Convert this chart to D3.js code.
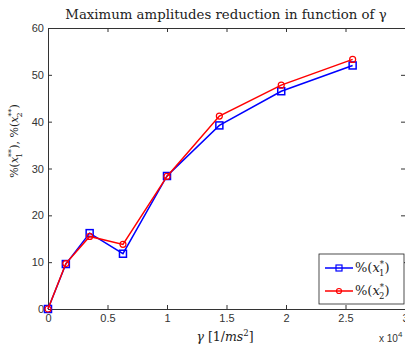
<!DOCTYPE html>
<html>
<head>
<meta charset="utf-8">
<script src="https://cdn.jsdelivr.net/npm/d3@7"></script>
<style>
	body { margin: 0; background: #fff; }
	.tick text { font-family: 'Liberation Sans', Arial, sans-serif; font-size: 11px; fill: #333; }
	.math { font-family: 'DejaVu Serif', 'Liberation Serif', serif; }
</style>
</head>
<body>
<script>
// values (gamma in 1e4 1/ms^2)
const gamma = [0, 0.15, 0.35, 0.63, 1.0, 1.44, 1.96, 2.56]
const x1 = [0, 9.6, 16.2, 11.8, 28.4, 39.2, 46.5, 52.0]
const x2 = [0, 9.7, 15.5, 13.8, 28.3, 41.2, 47.8, 53.3]
const xTicks = [0, 0.5, 1, 1.5, 2, 2.5, 3]
const yTicks = [0, 10, 20, 30, 40, 50, 60]

const W = 405, H = 347
const margin = { top: 28, bottom: 38, left: 48, right: 0 }
const width = W - margin.left - margin.right
const height = H - margin.top - margin.bottom

const svg = d3.select('body').append('svg').attr('width', W).attr('height', H)
const g = svg.append('g').attr('transform', `translate(${margin.left},${margin.top})`)

const xscale = d3.scaleLinear().domain([0, 3]).range([0, width])
const yscale = d3.scaleLinear().domain([0, 60]).range([height, 0])

// axes, ticks pointing inwards like matlab
const axisStyle = sel => {
	sel.select('.domain').attr('stroke', '#333')
	sel.selectAll('.tick line').attr('stroke', '#333')
}
g.append('g').attr('transform', `translate(0,${height})`)
	.call(d3.axisBottom(xscale).tickValues(xTicks).tickSize(-4).tickPadding(5).tickFormat(d3.format('')))
	.call(axisStyle)
g.append('g')
	.call(d3.axisTop(xscale).tickValues(xTicks).tickSize(-4).tickFormat(''))
	.call(axisStyle)
g.append('g')
	.call(d3.axisLeft(yscale).tickValues(yTicks).tickSize(-4).tickPadding(4))
	.call(axisStyle)
g.append('g').attr('transform', `translate(${width},0)`)
	.call(d3.axisRight(yscale).tickValues(yTicks).tickSize(-4).tickFormat(''))
	.call(axisStyle)

const line = d3.line().x(d => xscale(d[0])).y(d => yscale(d[1]))

const s1 = gamma.map((v, i) => [v, x1[i]])
const s2 = gamma.map((v, i) => [v, x2[i]])

g.append('path').datum(s1).attr('d', line).attr('fill', 'none').attr('stroke', '#0000ff').attr('stroke-width', 1.5)
g.selectAll('.sq').data(s1).join('rect')
	.attr('x', d => xscale(d[0]) - 3.5).attr('y', d => yscale(d[1]) - 3.5)
	.attr('width', 7).attr('height', 7)
	.attr('fill', 'none').attr('stroke', '#0000ff').attr('stroke-width', 1.5)

g.append('path').datum(s2).attr('d', line).attr('fill', 'none').attr('stroke', '#ff0000').attr('stroke-width', 1.5)
g.selectAll('.ci').data(s2).join('circle')
	.attr('cx', d => xscale(d[0])).attr('cy', d => yscale(d[1])).attr('r', 3)
	.attr('fill', 'none').attr('stroke', '#ff0000').attr('stroke-width', 1.2)

// title
svg.append('text').attr('class', 'math').attr('x', 226).attr('y', 19)
	.attr('text-anchor', 'middle').attr('font-size', 13.3).attr('fill', '#222')
	.text('Maximum amplitudes reduction in function of γ')

// x label
const xl = svg.append('text').attr('class', 'math').attr('x', 225).attr('y', 341)
	.attr('text-anchor', 'middle').attr('font-size', 12.5).attr('fill', '#222')
xl.append('tspan').attr('font-style', 'italic').text('γ')
xl.append('tspan').text(' [1/')
xl.append('tspan').attr('font-style', 'italic').text('ms')
xl.append('tspan').attr('font-size', 8.5).attr('dy', -5).text('2')
xl.append('tspan').attr('dy', 5).text(']')

// exponent
const ex = svg.append('text').attr('x', 379).attr('y', 342)
	.attr('font-family', 'Liberation Sans, Arial, sans-serif').attr('font-size', 10).attr('fill', '#333')
ex.append('tspan').text('x 10')
ex.append('tspan').attr('font-size', 8).attr('dy', -5).text('4')

// y label
const yl = svg.append('text').attr('class', 'math')
	.attr('transform', 'translate(18,141) rotate(-90)')
	.attr('text-anchor', 'middle').attr('font-size', 11).attr('fill', '#222')
const ylab = (k, first) => {
	yl.append('tspan').text('%(')
	yl.append('tspan').attr('font-style', 'italic').text('x')
	yl.append('tspan').attr('font-size', 8).attr('dy', -4).text('**')
	yl.append('tspan').attr('font-size', 8).attr('dy', 8).attr('dx', -9).text(k)
	yl.append('tspan').attr('dy', -4).attr('dx', 4).text(first ? '), ' : ')')
}
ylab('1', true)
ylab('2', false)

// legend
const leg = svg.append('g').attr('transform', 'translate(319,254)')
leg.append('rect').attr('width', 85).attr('height', 50).attr('fill', '#fff').attr('stroke', '#222').attr('stroke-width', 0.8)
const entries = [
	{ color: '#0000ff', sym: 'sq', k: '1', y: 14 },
	{ color: '#ff0000', sym: 'ci', k: '2', y: 37 }
]
entries.forEach(e => {
	leg.append('line').attr('x1', 6).attr('x2', 34).attr('y1', e.y).attr('y2', e.y)
		.attr('stroke', e.color).attr('stroke-width', 1.5)
	if (e.sym === 'sq') {
		leg.append('rect').attr('x', 17).attr('y', e.y - 3).attr('width', 6).attr('height', 6)
			.attr('fill', 'none').attr('stroke', e.color).attr('stroke-width', 1.2)
	} else {
		leg.append('circle').attr('cx', 20).attr('cy', e.y).attr('r', 2.5)
			.attr('fill', 'none').attr('stroke', e.color).attr('stroke-width', 1.2)
	}
	const t = leg.append('text').attr('class', 'math').attr('x', 36).attr('y', e.y + 4)
		.attr('font-size', 13).attr('fill', '#222')
	t.append('tspan').text('%(')
	t.append('tspan').attr('font-style', 'italic').text('x')
	t.append('tspan').attr('font-size', 8.5).attr('dy', -5).text('*')
	t.append('tspan').attr('font-size', 8.5).attr('dy', 9).attr('dx', -5).text(e.k)
	t.append('tspan').attr('dy', -4).text(')')
})
</script>
</body>
</html>
